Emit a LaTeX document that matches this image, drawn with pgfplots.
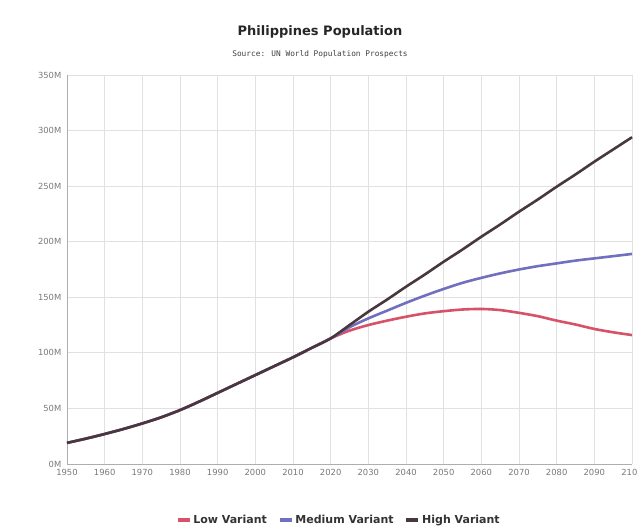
\documentclass[border=0pt]{standalone}
\usepackage{pgfplots}
\pgfplotsset{compat=1.18}
\usepackage{pgfplotstable}
\usepackage{fontspec}
\setmainfont{DejaVu Sans}
\newfontfamily\monofont{DejaVu Sans Mono}
\definecolor{lowc}{RGB}{214,82,104}
\definecolor{medc}{RGB}{112,112,190}
\definecolor{highc}{RGB}{72,56,62}
\definecolor{gridc}{RGB}{225,225,225}
\definecolor{tickc}{RGB}{120,120,120}

\pgfplotstableread{
year low
1950 19
1955 22.8
1960 27
1965 31.5
1970 36.5
1975 42
1980 48.5
1985 56
1990 64
1995 72
2000 80
2005 88
2010 96
2015 104.5
2020 113
2025 120
2030 125
2035 129
2040 132.5
2045 135.5
2050 137.5
2055 139
2060 139.5
2065 138.5
2070 136
2075 133
2080 129
2085 125.5
2090 121.5
2095 118.5
2100 116
}\lowtab
\pgfplotstableread{
year med
1950 19
1955 22.8
1960 27
1965 31.5
1970 36.5
1975 42
1980 48.5
1985 56
1990 64
1995 72
2000 80
2005 88
2010 96
2015 104.5
2020 113
2025 123
2030 131
2035 138
2040 145
2045 151.5
2050 157.5
2055 163
2060 167.5
2065 171.5
2070 175
2075 178
2080 180.5
2085 183
2090 185
2095 187
2100 189
}\medtab
\pgfplotstableread{
year high
1950 19
1955 22.8
1960 27
1965 31.5
1970 36.5
1975 42
1980 48.5
1985 56
1990 64
1995 72
2000 80
2005 88
2010 96
2015 104.5
2020 113
2025 125
2030 137
2035 148
2040 159.5
2045 170.5
2050 182
2055 193
2060 204.5
2065 215.5
2070 227
2075 238
2080 249.5
2085 260.5
2090 272
2095 283
2100 294
}\hightab

\begin{document}
\begin{tikzpicture}[x=1pt,y=1pt]
\begin{axis}[
  at={(67pt,66pt)}, anchor=south west,
  scale only axis, width=565pt, height=389pt,
  xmin=1950, xmax=2100, ymin=0, ymax=350,
  xtick={1950,1960,...,2100},
  ytick={0,50,...,350},
  yticklabels={0M,50M,100M,150M,200M,250M,300M,350M},
  xticklabel style={/pgf/number format/1000 sep={}},
  /pgf/number format/assume math mode=true,
  tick label style={font=\fontsize{8.4}{10}\selectfont, text=tickc},
  grid=major, major grid style={gridc, line width=0.8pt},
  axis x line=bottom, axis y line=left,
  axis line style={-, draw=tickc!60, line width=0.8pt},
  tick style={draw=none},
  clip=false,
  legend style={at={(0.481,-0.144)}, anchor=center, legend columns=-1, draw=none,
    font=\fontsize{11}{13}\selectfont\bfseries, text=black!80,
    /tikz/every even column/.append style={column sep=9pt}},
  legend image code/.code={\draw[line width=3.5pt,#1] (0pt,0pt) -- (12pt,0pt);},
]
\addplot[lowc, line width=2.6pt, smooth] table[x=year,y=low] {\lowtab};
\addlegendentry{Low Variant}
\addplot[medc, line width=2.6pt, smooth] table[x=year,y=med] {\medtab};
\addlegendentry{Medium Variant}
\addplot[highc, line width=2.6pt, smooth] table[x=year,y=high] {\hightab};
\addlegendentry{High Variant}
\end{axis}
\node[font=\fontsize{13}{15}\selectfont\bfseries, text=black!85] at (320pt,498pt) {Philippines Population};
\node[font=\monofont\fontsize{7.8}{9}\selectfont, text=black!75] at (320pt,476pt) {Source: UN World Population Prospects};
\pgfresetboundingbox
\path (0pt,0pt) rectangle (637pt,530pt);
\end{tikzpicture}
\end{document}
